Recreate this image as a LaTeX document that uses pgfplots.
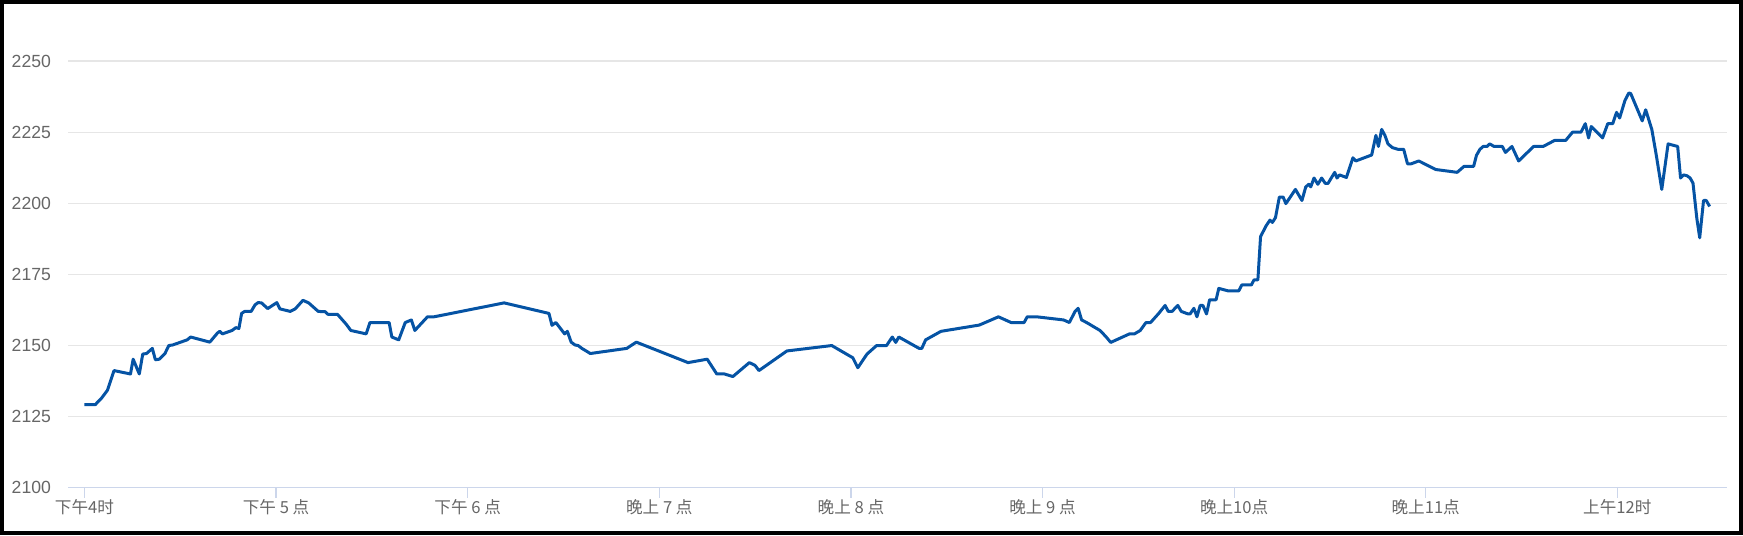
\documentclass[border=0pt]{standalone}
\usepackage{pgfplots}
\pgfplotsset{compat=1.18}
\usepackage{fontspec}
\setmainfont{Liberation Sans}
\newfontfamily\cjk{Noto Sans CJK SC}

\definecolor{linecol}{RGB}{5,83,164}
\definecolor{gridcol}{RGB}{230,230,230}
\definecolor{axiscol}{RGB}{204,214,235}
\definecolor{labelcol}{RGB}{102,102,102}

\begin{document}
\begin{tikzpicture}
\begin{axis}[
    x=95.8pt, y=1.422pt,
    xmin=-0.0846, xmax=8.573,
    ymin=2100, ymax=2262.5,
    axis x line*=bottom,
    axis y line*=left,
    y axis line style={draw=none},
    x axis line style={draw=axiscol, line width=0.7pt},
    xtick={0,1,2,3,4,5,6,7,8},
    xticklabels={下午4时, 下午 5 点, 下午 6 点, 晚上 7 点, 晚上 8 点, 晚上 9 点, 晚上10点, 晚上11点, 上午12时},
    ytick={2100,2125,2150,2175,2200,2225,2250},
    tick align=outside,
    x tick style={draw=axiscol, line width=0.6pt},
    major tick length=5pt,
    y tick style={draw=none},
    ymajorgrids,
    grid style={draw=gridcol, line width=0.7pt},
    xticklabel style={font=\cjk\fontsize{8.3}{10}\selectfont, text=labelcol, anchor=north, inner sep=0pt, yshift=-0.5pt},
    yticklabel style={font=\fontsize{8.8}{10}\selectfont, text=labelcol, anchor=east, inner sep=0pt, xshift=-3.5pt},
    /pgf/number format/assume math mode=true,
    /pgf/number format/1000 sep={},
    clip=false,
]
\addplot[linecol, line width=1.5pt, line join=round] coordinates {
(0,2129.2) (0.056,2129.2) (0.09,2131.6) (0.12,2134.3) (0.154,2141.2)
(0.24,2140) (0.254,2145.2) (0.286,2140) (0.304,2147) (0.324,2147.2)
(0.354,2149) (0.37,2145) (0.39,2145.2) (0.42,2147.2) (0.44,2150)
(0.46,2150.2) (0.536,2152) (0.554,2153) (0.654,2151.2) (0.694,2154.4)
(0.706,2155) (0.72,2154.1) (0.77,2155.3) (0.79,2156.3) (0.806,2156)
(0.82,2161.3) (0.836,2162) (0.87,2162) (0.89,2164.3) (0.906,2165.1)
(0.924,2165) (0.956,2163) (1.004,2165.1) (1.02,2162.9) (1.074,2162)
(1.1,2162.9) (1.14,2165.9) (1.17,2165) (1.22,2162) (1.256,2161.9)
(1.27,2161) (1.32,2161) (1.366,2157.5) (1.39,2155.3) (1.47,2154.1)
(1.49,2158.1) (1.59,2158.1) (1.604,2153) (1.64,2152) (1.674,2158.1)
(1.706,2159) (1.724,2155.3) (1.79,2160.1) (1.824,2160.1) (2.19,2165)
(2.424,2161.3) (2.44,2157.1) (2.46,2158.1) (2.506,2154.1) (2.52,2155)
(2.54,2151.2) (2.56,2150.2) (2.576,2150) (2.596,2149) (2.64,2147.2)
(2.83,2149) (2.88,2151.2) (3.15,2144) (3.25,2145.2) (3.3,2140)
(3.34,2140) (3.384,2139.1) (3.47,2144) (3.5,2143) (3.52,2141.2)
(3.666,2148.1) (3.9,2150) (4.01,2145.7) (4.036,2142.2) (4.084,2147)
(4.134,2150) (4.186,2150) (4.216,2153) (4.234,2151.1) (4.25,2153)
(4.356,2149) (4.37,2149) (4.39,2152) (4.47,2155) (4.67,2157.2)
(4.77,2160.1) (4.836,2158.1) (4.904,2158.1) (4.92,2160.1) (4.97,2160.1)
(5.11,2159) (5.14,2158.1) (5.17,2162) (5.186,2163.1) (5.204,2159)
(5.23,2158.1) (5.3,2155.3) (5.33,2153.2) (5.356,2151.1) (5.454,2154.1)
(5.48,2154.1) (5.51,2155.3) (5.54,2158.1) (5.564,2158.1) (5.604,2161.1)
(5.64,2164.1) (5.656,2162) (5.676,2162) (5.706,2164.1) (5.724,2162)
(5.76,2161.1) (5.77,2161.1) (5.79,2163.1) (5.806,2160.1) (5.823,2164.1)
(5.837,2164.1) (5.856,2161.1) (5.872,2166.1) (5.906,2166.1) (5.92,2170.1)
(5.97,2169.2) (6.024,2169.2) (6.04,2171.3) (6.09,2171.3) (6.104,2173.1)
(6.124,2173.1) (6.138,2188.3) (6.167,2192.1) (6.187,2194.1) (6.2,2193.3)
(6.216,2195) (6.236,2202.2) (6.256,2202.2) (6.27,2199.9) (6.32,2204.9)
(6.354,2201) (6.374,2205.8) (6.39,2206.7) (6.4,2205.8) (6.417,2208.9)
(6.437,2206.7) (6.457,2208.9) (6.476,2207) (6.49,2207) (6.525,2210.9)
(6.537,2208.9) (6.55,2210) (6.586,2209.1) (6.62,2216) (6.635,2214.9)
(6.718,2217) (6.74,2223.9) (6.753,2220) (6.77,2226) (6.787,2223.9)
(6.803,2220.9) (6.826,2219.6) (6.855,2219) (6.885,2219) (6.905,2213.9)
(6.924,2213.9) (6.964,2214.9) (7.052,2211.9) (7.164,2210.9) (7.2,2213)
(7.25,2213) (7.265,2216.9) (7.283,2219) (7.3,2220) (7.32,2220)
(7.334,2220.9) (7.357,2220) (7.4,2220) (7.416,2217.9) (7.45,2220)
(7.485,2214.9) (7.563,2220) (7.613,2220) (7.672,2222.1) (7.73,2222.1)
(7.766,2225) (7.81,2225) (7.833,2228) (7.85,2223) (7.864,2227)
(7.923,2223) (7.95,2228) (7.976,2228) (7.996,2232) (8.012,2230)
(8.04,2236.2) (8.06,2238.8) (8.07,2238.6) (8.13,2229) (8.148,2232.9)
(8.18,2226) (8.202,2217.5) (8.232,2204.9) (8.265,2220.9) (8.315,2220)
(8.33,2208.9) (8.346,2210) (8.364,2209.7) (8.38,2208.9) (8.395,2207.1)
(8.415,2194.7) (8.43,2187.9) (8.45,2201) (8.464,2201) (8.482,2198.9)
};
\coordinate (fsw) at (axis cs:-0.441,2083.37);
\coordinate (fne) at (axis cs:8.656,2271.5);
\end{axis}
\pgfresetboundingbox
\path[use as bounding box] (fsw) rectangle (fne);
\draw[black, line width=2pt] ([shift={(1pt,1pt)}]fsw) rectangle ([shift={(-1pt,-1pt)}]fne);
\end{tikzpicture}
\end{document}
